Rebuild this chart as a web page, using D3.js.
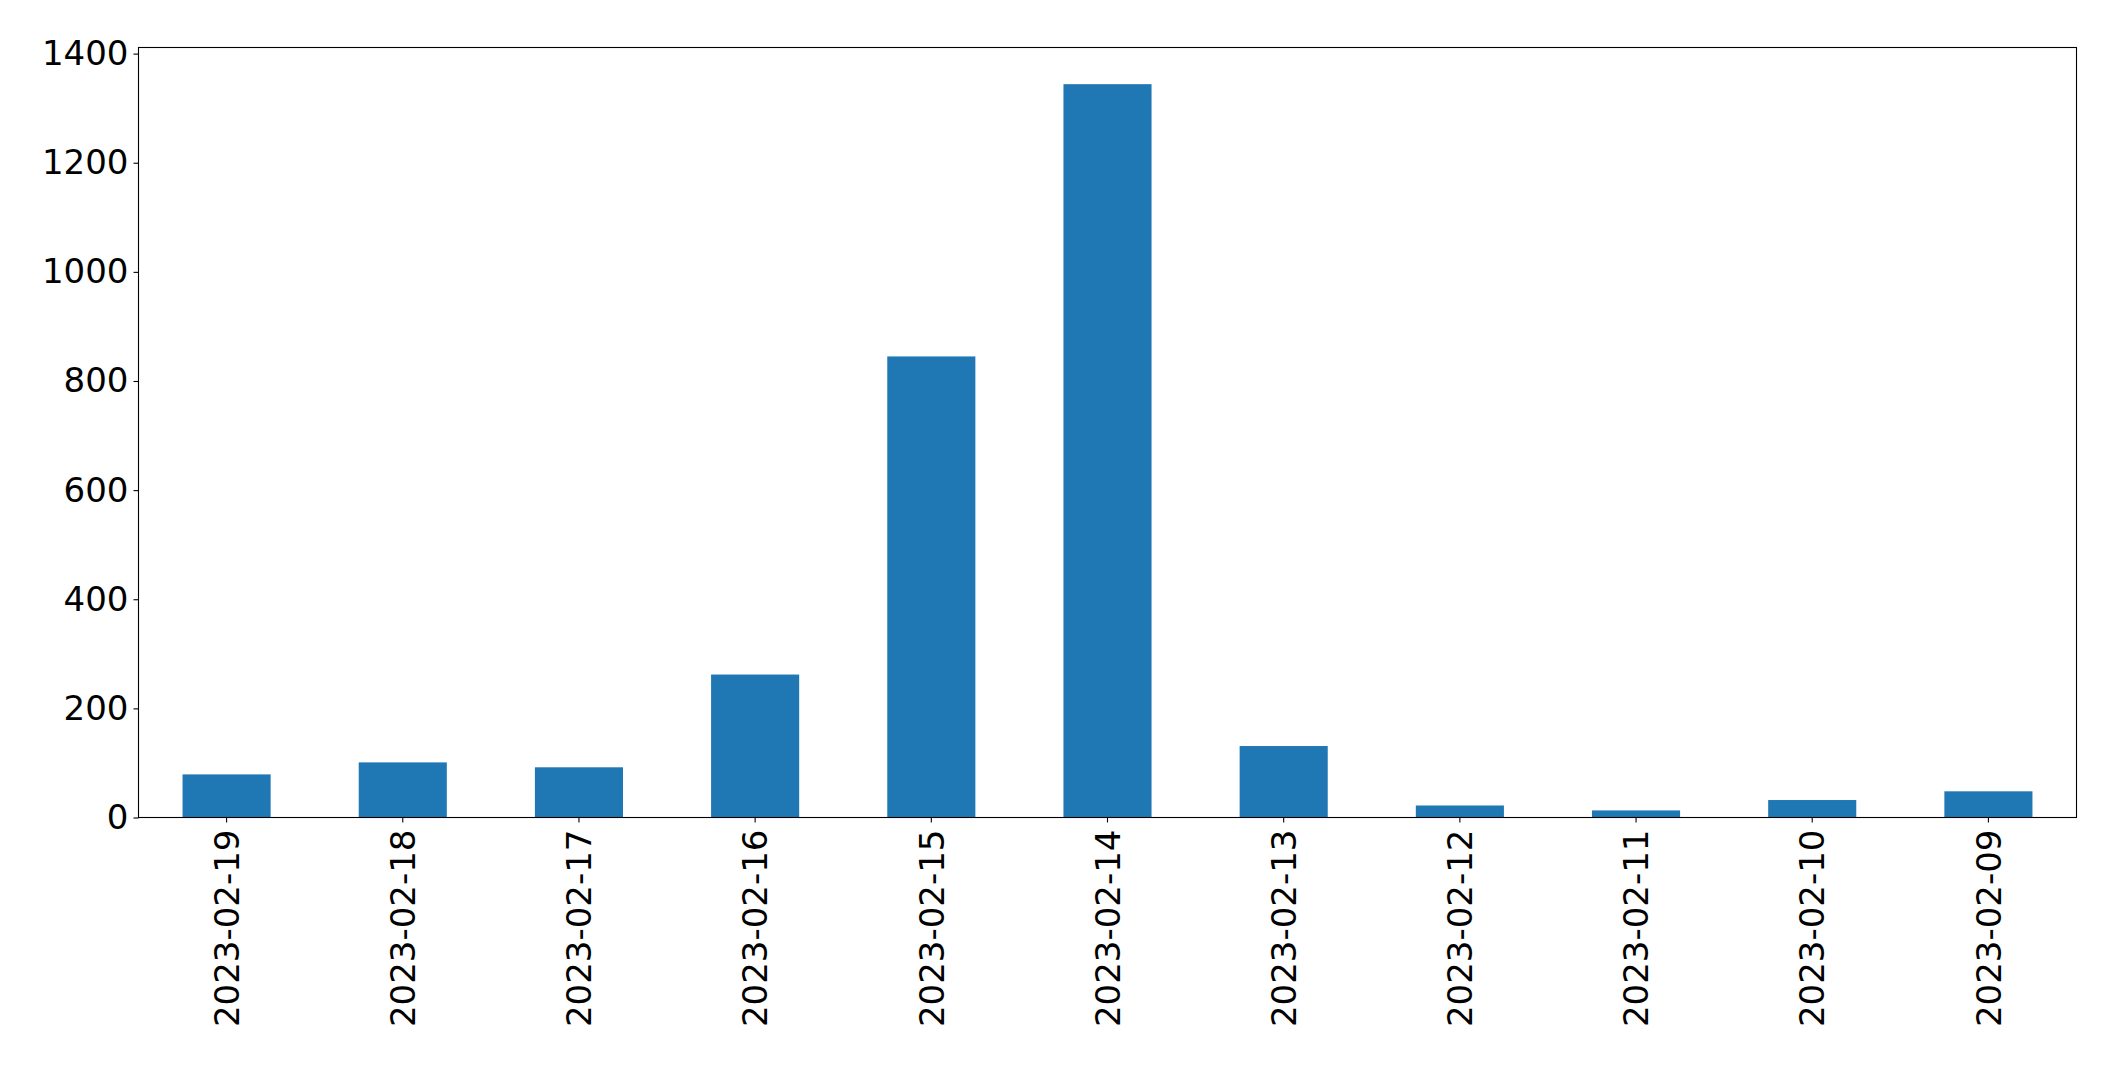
<!DOCTYPE html>
<html>
<head>
<meta charset="utf-8">
<script src="https://cdn.jsdelivr.net/npm/d3@7"></script>
<style>
  html, body { margin: 0; padding: 0; background: #fff; }
  svg { display: block; }
</style>
</head>
<body>
<svg id="chart" width="2115" height="1069"></svg>
<script>
const categories = ["2023-02-19","2023-02-18","2023-02-17","2023-02-16","2023-02-15","2023-02-14","2023-02-13","2023-02-12","2023-02-11","2023-02-10","2023-02-09"];
const values = [79, 101, 92, 262, 845, 1344, 131, 22, 13, 32, 48];
const yTicks = [0, 200, 400, 600, 800, 1000, 1200, 1400];

const W = 2115, H = 1069;
const margin = {left: 138.5, right: W - 2076.5, top: 47.5, bottom: H - 817.5};
const svg = d3.select("#chart");
const font = "'DejaVu Sans', sans-serif";
const fontSize = 34;

const x = d3.scaleBand().domain(categories)
  .range([margin.left, W - margin.right]).paddingInner(0.5).paddingOuter(0.25);
const yMax = d3.max(values) * 1.05;
const y = d3.scaleLinear().domain([0, yMax]).range([H - margin.bottom, margin.top]);

svg.append("g").selectAll("rect").data(values).join("rect")
  .attr("x", (d, i) => x(categories[i]))
  .attr("width", x.bandwidth())
  .attr("y", d => y(d))
  .attr("height", d => y(0) - y(d))
  .attr("fill", "#1f77b4");

// frame
svg.append("rect")
  .attr("x", margin.left).attr("y", margin.top)
  .attr("width", W - margin.right - margin.left)
  .attr("height", H - margin.bottom - margin.top)
  .attr("fill", "none").attr("stroke", "#000").attr("stroke-width", 1.1);

const yAxis = svg.append("g")
  .attr("transform", `translate(${margin.left},0)`)
  .call(d3.axisLeft(y).tickValues(yTicks).tickSize(5).tickPadding(5).tickFormat(d3.format("d")));
yAxis.select(".domain").remove();
yAxis.selectAll("line").attr("stroke", "#000").attr("stroke-width", 1.1);
yAxis.selectAll("text").attr("font-family", font).attr("font-size", fontSize).attr("fill", "#000");

const xAxis = svg.append("g")
  .attr("transform", `translate(0,${H - margin.bottom})`)
  .call(d3.axisBottom(x).tickSize(5).tickPadding(0));
xAxis.select(".domain").remove();
xAxis.selectAll("line").attr("stroke", "#000").attr("stroke-width", 1.1);
xAxis.selectAll("text")
  .attr("font-family", font).attr("font-size", fontSize).attr("fill", "#000")
  .attr("transform", "translate(0,12) rotate(-90)")
  .attr("text-anchor", "end")
  .attr("x", 0).attr("y", 0)
  .attr("dy", "0.36em");
</script>
</body>
</html>
